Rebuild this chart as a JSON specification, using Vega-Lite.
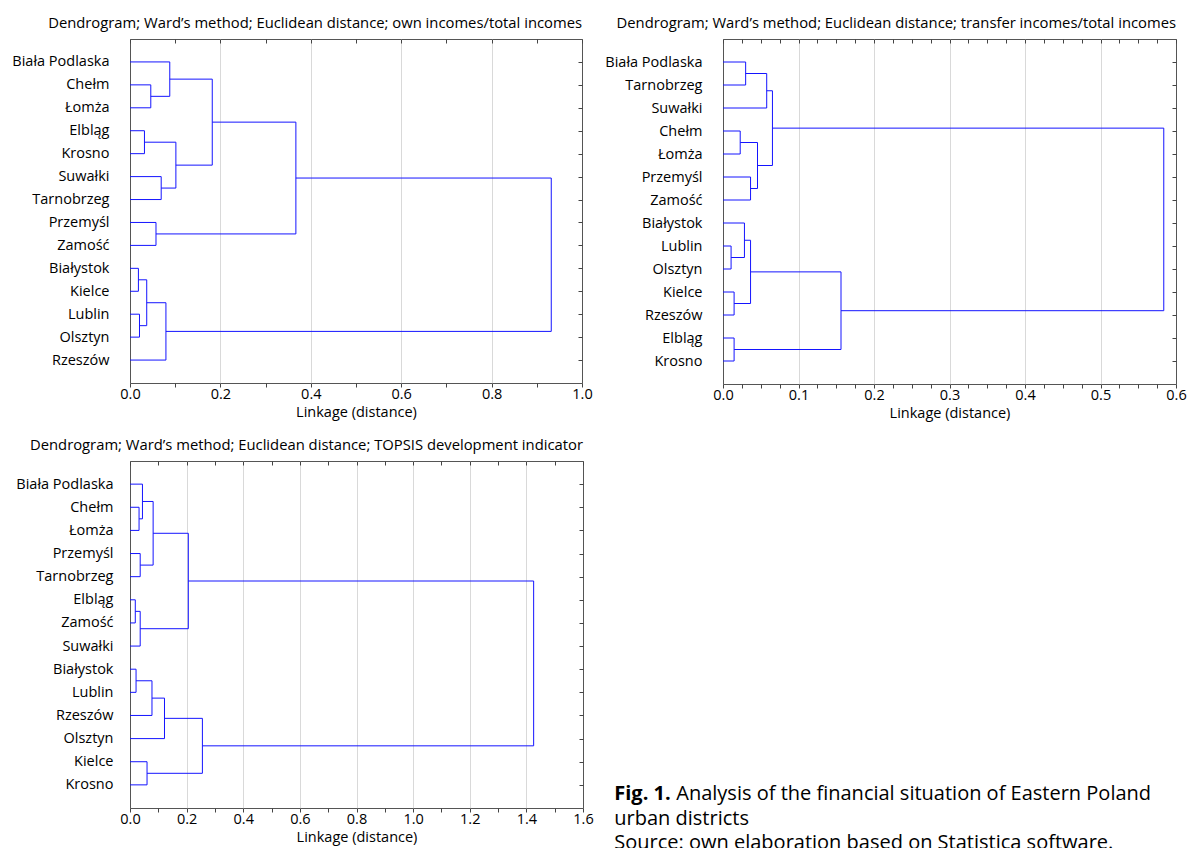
{
  "$schema": "https://vega.github.io/schema/vega-lite/v6.json",
  "padding": {"left": 11, "top": 15, "right": 0, "bottom": 0},
  "background": "white",
  "columns": 2,
  "spacing": {"row": 77, "column": 140},
  "bounds": "flush",
  "datasets": {
    "own": [
      {"d1":0,"d2":0.046,"r1":1,"r2":1},{"d1":0,"d2":0.046,"r1":2,"r2":2},{"d1":0.046,"d2":0.046,"r1":1,"r2":2},
      {"d1":0,"d2":0.088,"r1":0,"r2":0},{"d1":0.046,"d2":0.088,"r1":1.5,"r2":1.5},{"d1":0.088,"d2":0.088,"r1":0,"r2":1.5},
      {"d1":0,"d2":0.032,"r1":3,"r2":3},{"d1":0,"d2":0.032,"r1":4,"r2":4},{"d1":0.032,"d2":0.032,"r1":3,"r2":4},
      {"d1":0,"d2":0.069,"r1":5,"r2":5},{"d1":0,"d2":0.069,"r1":6,"r2":6},{"d1":0.069,"d2":0.069,"r1":5,"r2":6},
      {"d1":0.032,"d2":0.1015,"r1":3.5,"r2":3.5},{"d1":0.069,"d2":0.1015,"r1":5.5,"r2":5.5},{"d1":0.1015,"d2":0.1015,"r1":3.5,"r2":5.5},
      {"d1":0.088,"d2":0.182,"r1":0.75,"r2":0.75},{"d1":0.1015,"d2":0.182,"r1":4.5,"r2":4.5},{"d1":0.182,"d2":0.182,"r1":0.75,"r2":4.5},
      {"d1":0,"d2":0.0575,"r1":7,"r2":7},{"d1":0,"d2":0.0575,"r1":8,"r2":8},{"d1":0.0575,"d2":0.0575,"r1":7,"r2":8},
      {"d1":0.182,"d2":0.367,"r1":2.625,"r2":2.625},{"d1":0.0575,"d2":0.367,"r1":7.5,"r2":7.5},{"d1":0.367,"d2":0.367,"r1":2.625,"r2":7.5},
      {"d1":0,"d2":0.0186,"r1":9,"r2":9},{"d1":0,"d2":0.0186,"r1":10,"r2":10},{"d1":0.0186,"d2":0.0186,"r1":9,"r2":10},
      {"d1":0,"d2":0.021,"r1":11,"r2":11},{"d1":0,"d2":0.021,"r1":12,"r2":12},{"d1":0.021,"d2":0.021,"r1":11,"r2":12},
      {"d1":0.0186,"d2":0.037,"r1":9.5,"r2":9.5},{"d1":0.021,"d2":0.037,"r1":11.5,"r2":11.5},{"d1":0.037,"d2":0.037,"r1":9.5,"r2":11.5},
      {"d1":0.037,"d2":0.0795,"r1":10.5,"r2":10.5},{"d1":0,"d2":0.0795,"r1":13,"r2":13},{"d1":0.0795,"d2":0.0795,"r1":10.5,"r2":13},
      {"d1":0.367,"d2":0.932,"r1":5.0625,"r2":5.0625},{"d1":0.0795,"d2":0.932,"r1":11.75,"r2":11.75},{"d1":0.932,"d2":0.932,"r1":5.0625,"r2":11.75}
    ],
    "transfer": [
      {"d1":0,"d2":0.03,"r1":0,"r2":0},{"d1":0,"d2":0.03,"r1":1,"r2":1},{"d1":0.03,"d2":0.03,"r1":0,"r2":1},
      {"d1":0.03,"d2":0.0579,"r1":0.5,"r2":0.5},{"d1":0,"d2":0.0579,"r1":2,"r2":2},{"d1":0.0579,"d2":0.0579,"r1":0.5,"r2":2},
      {"d1":0,"d2":0.0228,"r1":3,"r2":3},{"d1":0,"d2":0.0228,"r1":4,"r2":4},{"d1":0.0228,"d2":0.0228,"r1":3,"r2":4},
      {"d1":0,"d2":0.0365,"r1":5,"r2":5},{"d1":0,"d2":0.0365,"r1":6,"r2":6},{"d1":0.0365,"d2":0.0365,"r1":5,"r2":6},
      {"d1":0.0228,"d2":0.0457,"r1":3.5,"r2":3.5},{"d1":0.0365,"d2":0.0457,"r1":5.5,"r2":5.5},{"d1":0.0457,"d2":0.0457,"r1":3.5,"r2":5.5},
      {"d1":0.0579,"d2":0.0655,"r1":1.25,"r2":1.25},{"d1":0.0457,"d2":0.0655,"r1":4.5,"r2":4.5},{"d1":0.0655,"d2":0.0655,"r1":1.25,"r2":4.5},
      {"d1":0,"d2":0.0107,"r1":8,"r2":8},{"d1":0,"d2":0.0107,"r1":9,"r2":9},{"d1":0.0107,"d2":0.0107,"r1":8,"r2":9},
      {"d1":0,"d2":0.0284,"r1":7,"r2":7},{"d1":0.0107,"d2":0.0284,"r1":8.5,"r2":8.5},{"d1":0.0284,"d2":0.0284,"r1":7,"r2":8.5},
      {"d1":0,"d2":0.0147,"r1":10,"r2":10},{"d1":0,"d2":0.0147,"r1":11,"r2":11},{"d1":0.0147,"d2":0.0147,"r1":10,"r2":11},
      {"d1":0.0284,"d2":0.0365,"r1":7.75,"r2":7.75},{"d1":0.0147,"d2":0.0365,"r1":10.5,"r2":10.5},{"d1":0.0365,"d2":0.0365,"r1":7.75,"r2":10.5},
      {"d1":0,"d2":0.0147,"r1":12,"r2":12},{"d1":0,"d2":0.0147,"r1":13,"r2":13},{"d1":0.0147,"d2":0.0147,"r1":12,"r2":13},
      {"d1":0.0365,"d2":0.1563,"r1":9.125,"r2":9.125},{"d1":0.0147,"d2":0.1563,"r1":12.5,"r2":12.5},{"d1":0.1563,"d2":0.1563,"r1":9.125,"r2":12.5},
      {"d1":0.0655,"d2":0.5838,"r1":2.875,"r2":2.875},{"d1":0.1563,"d2":0.5838,"r1":10.8125,"r2":10.8125},{"d1":0.5838,"d2":0.5838,"r1":2.875,"r2":10.8125}
    ],
    "topsis": [
      {"d1":0,"d2":0.032,"r1":1,"r2":1},{"d1":0,"d2":0.032,"r1":2,"r2":2},{"d1":0.032,"d2":0.032,"r1":1,"r2":2},
      {"d1":0,"d2":0.044,"r1":0,"r2":0},{"d1":0.032,"d2":0.044,"r1":1.5,"r2":1.5},{"d1":0.044,"d2":0.044,"r1":0,"r2":1.5},
      {"d1":0,"d2":0.036,"r1":3,"r2":3},{"d1":0,"d2":0.036,"r1":4,"r2":4},{"d1":0.036,"d2":0.036,"r1":3,"r2":4},
      {"d1":0.044,"d2":0.0817,"r1":0.75,"r2":0.75},{"d1":0.036,"d2":0.0817,"r1":3.5,"r2":3.5},{"d1":0.0817,"d2":0.0817,"r1":0.75,"r2":3.5},
      {"d1":0,"d2":0.0187,"r1":5,"r2":5},{"d1":0,"d2":0.0187,"r1":6,"r2":6},{"d1":0.0187,"d2":0.0187,"r1":5,"r2":6},
      {"d1":0.0187,"d2":0.036,"r1":5.5,"r2":5.5},{"d1":0,"d2":0.036,"r1":7,"r2":7},{"d1":0.036,"d2":0.036,"r1":5.5,"r2":7},
      {"d1":0.0817,"d2":0.206,"r1":2.125,"r2":2.125},{"d1":0.036,"d2":0.206,"r1":6.25,"r2":6.25},{"d1":0.206,"d2":0.206,"r1":2.125,"r2":6.25},
      {"d1":0,"d2":0.0214,"r1":8,"r2":8},{"d1":0,"d2":0.0214,"r1":9,"r2":9},{"d1":0.0214,"d2":0.0214,"r1":8,"r2":9},
      {"d1":0.0214,"d2":0.0776,"r1":8.5,"r2":8.5},{"d1":0,"d2":0.0776,"r1":10,"r2":10},{"d1":0.0776,"d2":0.0776,"r1":8.5,"r2":10},
      {"d1":0.0776,"d2":0.1218,"r1":9.25,"r2":9.25},{"d1":0,"d2":0.1218,"r1":11,"r2":11},{"d1":0.1218,"d2":0.1218,"r1":9.25,"r2":11},
      {"d1":0,"d2":0.0602,"r1":12,"r2":12},{"d1":0,"d2":0.0602,"r1":13,"r2":13},{"d1":0.0602,"d2":0.0602,"r1":12,"r2":13},
      {"d1":0.1218,"d2":0.2557,"r1":10.125,"r2":10.125},{"d1":0.0602,"d2":0.2557,"r1":12.5,"r2":12.5},{"d1":0.2557,"d2":0.2557,"r1":10.125,"r2":12.5},
      {"d1":0.206,"d2":1.4257,"r1":4.1875,"r2":4.1875},{"d1":0.2557,"d2":1.4257,"r1":11.3125,"r2":11.3125},{"d1":1.4257,"d2":1.4257,"r1":4.1875,"r2":11.3125}
    ],
    "caption": [
      {"line": 1, "part": "bold", "text": "Fig. 1."},
      {"line": 1, "part": "normal", "text": "Analysis of the financial situation of Eastern Poland"},
      {"line": 2, "part": "plain", "text": "urban districts"},
      {"line": 3, "part": "plain", "text": "Source: own elaboration based on Statistica software."}
    ]
  },
  "concat": [
    {
      "width": 452, "height": 344,
      "title": {"text": "Dendrogram; Ward’s method; Euclidean distance; own incomes/total incomes"},
      "data": {"name": "own"},
      "layer": [
        {
          "mark": {"type": "rule", "color": "#1414ff", "strokeWidth": 1},
          "encoding": {
            "x": {"field": "d1", "type": "quantitative", "scale": {"domain": [0, 1], "nice": false, "zero": false},
              "axis": {"orient": "bottom", "title": "Linkage (distance)", "values": [0,0.1,0.2,0.3,0.4,0.5,0.6,0.7,0.8,0.9,1],
                "labelExpr": "round(datum.value*10) % 2 == 0 ? format(datum.value, '.1f') : ''",
                "grid": true, "gridOpacity": {"condition": {"test": "round(datum.value*10) % 2 == 0 && datum.value > 0 && datum.value < 1", "value": 1}, "value": 0}}},
            "x2": {"field": "d2"},
            "y": {"field": "r1", "type": "quantitative", "scale": {"domain": [-1, 14], "reverse": true, "nice": false, "zero": false},
              "axis": {"orient": "left", "title": null, "values": [0,1,2,3,4,5,6,7,8,9,10,11,12,13], "ticks": false, "tickSize": 0, "grid": false, "labelPadding": 21,
                "labelExpr": "['Biała Podlaska','Chełm','Łomża','Elbląg','Krosno','Suwałki','Tarnobrzeg','Przemyśl','Zamość','Białystok','Kielce','Lublin','Olsztyn','Rzeszów'][datum.value]"}},
            "y2": {"field": "r2"}
          }
        },
        {
          "mark": {"type": "rule", "opacity": 0},
          "encoding": {
            "x": {"field": "d1", "type": "quantitative", "axis": {"orient": "top", "title": null, "labels": false, "grid": false, "tickSize": -4, "values": [0,0.1,0.2,0.3,0.4,0.5,0.6,0.7,0.8,0.9,1]}},
            "x2": {"field": "d2"},
            "y": {"field": "r1", "type": "quantitative", "axis": {"orient": "right", "title": null, "labels": false, "grid": false, "tickSize": -4, "values": [0,1,2,3,4,5,6,7,8,9,10,11,12,13]}},
            "y2": {"field": "r2"}
          }
        }
      ],
      "resolve": {"axis": {"x": "independent", "y": "independent"}}
    },
    {
      "width": 453, "height": 345,
      "title": {"text": "Dendrogram; Ward’s method; Euclidean distance; transfer incomes/total incomes"},
      "data": {"name": "transfer"},
      "layer": [
        {
          "mark": {"type": "rule", "color": "#1414ff", "strokeWidth": 1},
          "encoding": {
            "x": {"field": "d1", "type": "quantitative", "scale": {"domain": [0, 0.6], "nice": false, "zero": false},
              "axis": {"orient": "bottom", "title": "Linkage (distance)", "values": [0,0.025,0.05,0.075,0.1,0.125,0.15,0.175,0.2,0.225,0.25,0.275,0.3,0.325,0.35,0.375,0.4,0.425,0.45,0.475,0.5,0.525,0.55,0.575,0.6],
                "labelExpr": "round(datum.value*40) % 4 == 0 ? format(datum.value, '.1f') : ''",
                "grid": true, "gridOpacity": {"condition": {"test": "round(datum.value*40) % 4 == 0 && datum.value > 0 && datum.value < 0.6", "value": 1}, "value": 0}}},
            "x2": {"field": "d2"},
            "y": {"field": "r1", "type": "quantitative", "scale": {"domain": [-1, 14], "reverse": true, "nice": false, "zero": false},
              "axis": {"orient": "left", "title": null, "values": [0,1,2,3,4,5,6,7,8,9,10,11,12,13], "ticks": false, "tickSize": 0, "grid": false, "labelPadding": 21,
                "labelExpr": "['Biała Podlaska','Tarnobrzeg','Suwałki','Chełm','Łomża','Przemyśl','Zamość','Białystok','Lublin','Olsztyn','Kielce','Rzeszów','Elbląg','Krosno'][datum.value]"}},
            "y2": {"field": "r2"}
          }
        },
        {
          "mark": {"type": "rule", "opacity": 0},
          "encoding": {
            "x": {"field": "d1", "type": "quantitative", "axis": {"orient": "top", "title": null, "labels": false, "grid": false, "tickSize": -4, "values": [0,0.025,0.05,0.075,0.1,0.125,0.15,0.175,0.2,0.225,0.25,0.275,0.3,0.325,0.35,0.375,0.4,0.425,0.45,0.475,0.5,0.525,0.55,0.575,0.6]}},
            "x2": {"field": "d2"},
            "y": {"field": "r1", "type": "quantitative", "axis": {"orient": "right", "title": null, "labels": false, "grid": false, "tickSize": -4, "values": [0,1,2,3,4,5,6,7,8,9,10,11,12,13]}},
            "y2": {"field": "r2"}
          }
        }
      ],
      "resolve": {"axis": {"x": "independent", "y": "independent"}}
    },
    {
      "width": 453, "height": 347,
      "title": {"text": "Dendrogram; Ward’s method; Euclidean distance; TOPSIS development indicator"},
      "data": {"name": "topsis"},
      "layer": [
        {
          "mark": {"type": "rule", "color": "#1414ff", "strokeWidth": 1},
          "encoding": {
            "x": {"field": "d1", "type": "quantitative", "scale": {"domain": [0, 1.6], "nice": false, "zero": false},
              "axis": {"orient": "bottom", "title": "Linkage (distance)", "values": [0,0.1,0.2,0.3,0.4,0.5,0.6,0.7,0.8,0.9,1,1.1,1.2,1.3,1.4,1.5,1.6],
                "labelExpr": "round(datum.value*10) % 2 == 0 ? format(datum.value, '.1f') : ''",
                "grid": true, "gridOpacity": {"condition": {"test": "round(datum.value*10) % 2 == 0 && datum.value > 0 && datum.value < 1.6", "value": 1}, "value": 0}}},
            "x2": {"field": "d2"},
            "y": {"field": "r1", "type": "quantitative", "scale": {"domain": [-1, 14], "reverse": true, "nice": false, "zero": false},
              "axis": {"orient": "left", "title": null, "values": [0,1,2,3,4,5,6,7,8,9,10,11,12,13], "ticks": false, "tickSize": 0, "grid": false, "labelPadding": 17,
                "labelExpr": "['Biała Podlaska','Chełm','Łomża','Przemyśl','Tarnobrzeg','Elbląg','Zamość','Suwałki','Białystok','Lublin','Rzeszów','Olsztyn','Kielce','Krosno'][datum.value]"}},
            "y2": {"field": "r2"}
          }
        },
        {
          "mark": {"type": "rule", "opacity": 0},
          "encoding": {
            "x": {"field": "d1", "type": "quantitative", "axis": {"orient": "top", "title": null, "labels": false, "grid": false, "tickSize": -4, "values": [0,0.1,0.2,0.3,0.4,0.5,0.6,0.7,0.8,0.9,1,1.1,1.2,1.3,1.4,1.5,1.6]}},
            "x2": {"field": "d2"},
            "y": {"field": "r1", "type": "quantitative", "axis": {"orient": "right", "title": null, "labels": false, "grid": false, "tickSize": -4, "values": [0,1,2,3,4,5,6,7,8,9,10,11,12,13]}},
            "y2": {"field": "r2"}
          }
        }
      ],
      "resolve": {"axis": {"x": "independent", "y": "independent"}}
    },
    {
      "width": 453, "height": 347,
      "view": {"stroke": null},
      "data": {"name": "caption"},
      "encoding": {
        "x": {"datum": 0, "type": "quantitative", "scale": {"domain": [0.24, 1.24], "nice": false, "zero": false}, "axis": null},
        "y": {"field": "line", "type": "quantitative", "scale": {"domain": [-12.592, 1.571], "reverse": true, "nice": false, "zero": false}, "axis": null},
        "text": {"field": "text"}
      },
      "layer": [
        {"transform": [{"filter": "datum.part == 'bold'"}], "mark": {"type": "text", "align": "left", "baseline": "middle", "fontWeight": "bold", "fontSize": 20, "font": "Open Sans", "color": "#000"}},
        {"transform": [{"filter": "datum.part == 'normal'"}], "mark": {"type": "text", "align": "left", "baseline": "middle", "fontSize": 20, "font": "Open Sans", "color": "#000", "dx": 62}},
        {"transform": [{"filter": "datum.part == 'plain'"}], "mark": {"type": "text", "align": "left", "baseline": "middle", "fontSize": 20, "font": "Open Sans", "color": "#000"}}
      ]
    }
  ],
  "config": {
    "view": {"stroke": "#555555", "strokeWidth": 1},
    "title": {"font": "Open Sans", "fontSize": 14.8, "fontWeight": "normal", "color": "#000", "anchor": "end", "frame": "group", "offset": 8},
    "axis": {
      "domain": false,
      "labelFont": "Open Sans", "labelFontSize": 14.5, "labelColor": "#000",
      "titleFont": "Open Sans", "titleFontSize": 14.5, "titleFontWeight": "normal", "titleColor": "#000",
      "tickColor": "#444", "tickSize": 4, "labelPadding": 0, "titlePadding": 5,
      "gridColor": "#d9d9d9", "labelOverlap": false, "labelFlush": false, "labelBound": false
    }
  }
}
